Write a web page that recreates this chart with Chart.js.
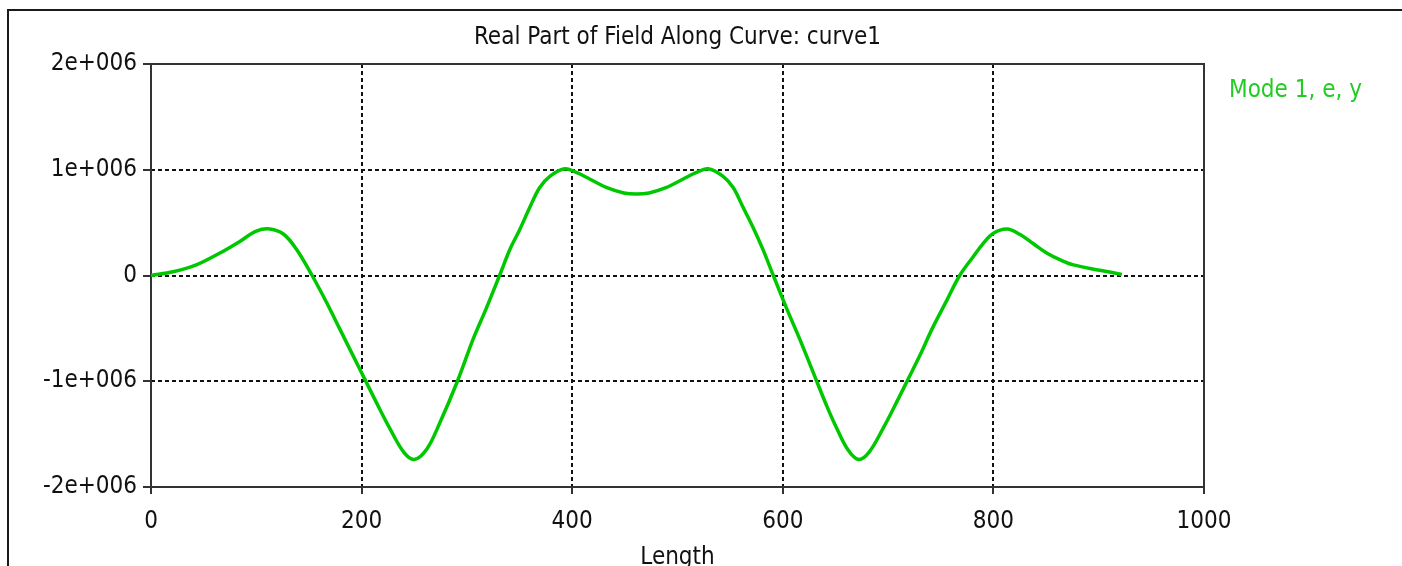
<!DOCTYPE html>
<html>
<head>
<meta charset="utf-8">
<title>Real Part of Field Along Curve: curve1</title>
<script src="https://cdn.jsdelivr.net/npm/chart.js@4.4.0/dist/chart.umd.min.js"></script>
<style>
  html, body { margin: 0; padding: 0; background: #fff; }
  #wrap { position: relative; width: 1402px; height: 566px; overflow: hidden; }
  #frame { position: absolute; left: 7px; top: 9px; right: -10px; bottom: -10px;
           border-top: 2px solid #1a1a1a; border-left: 2px solid #1a1a1a; }
  #plot { position: absolute; left: 0; top: 0; }
</style>
</head>
<body>
<div id="wrap">
  <div id="frame"></div>
  <canvas id="plot" width="1402" height="566"></canvas>
</div>
<script>
// distance along curve1
var lengths = [0, 21, 43, 65, 84, 100, 113, 126, 138, 153,
  167, 179, 192, 203, 214, 227, 240, 250, 262, 274,
  291, 306, 318, 331, 341, 350, 360, 369, 379, 393,
  405, 417, 433, 449, 461, 473, 489, 505, 517, 529,
  543, 553, 562, 572, 581, 591, 604, 616, 631, 642,
  651, 662, 672, 682, 695, 708, 719, 730, 742, 756,
  768, 781, 790, 800, 813, 825, 838, 851, 863, 876,
  901, 922];

// Re(Ey) for mode 1
var fieldRe = [0, 35e3, 1e5, 2.1e5, 3.2e5, 4.2e5, 4.4e5, 3.9e5, 2.5e5, 0,
  -2.6e5, -5e5, -7.6e5, -9.8e5, -1.2e6, -1.45e6, -1.67e6, -1.74e6, -1.64e6, -1.4e6,
  -1e6, -6e5, -3.2e5, 0, 2.5e5, 4.3e5, 6.5e5, 8.3e5, 9.4e5, 1.01e6,
  9.7e5, 9.1e5, 8.3e5, 7.8e5, 7.7e5, 7.8e5, 8.3e5, 9.1e5, 9.7e5, 1.01e6,
  9.4e5, 8.3e5, 6.5e5, 4.5e5, 2.5e5, 0, -3.2e5, -6e5, -9.7e5, -1.24e6,
  -1.44e6, -1.65e6, -1.74e6, -1.67e6, -1.45e6, -1.2e6, -9.8e5, -7.6e5, -5e5, -2.3e5,
  0, 1.8e5, 3e5, 4e5, 4.4e5, 3.9e5, 3e5, 2.1e5, 1.5e5, 1e5,
  5e4, 1e4];

var yTicks = [-2e6, -1e6, 0, 1e6, 2e6];
var yTickLabels = ['-2e+006', '-1e+006', '0', '1e+006', '2e+006'];
var xTicks = [0, 200, 400, 600, 800, 1000];
var xTickLabels = ['0', '200', '400', '600', '800', '1000'];

var seriesName = 'Mode 1, e, y';
var plotTitle = 'Real Part of Field Along Curve: curve1';

var fontFam = "'DejaVu Sans Condensed', 'Liberation Sans', sans-serif";
var fontSize = 24;
var axisCol = '#333';

var punkte = [];
for (var i = 0; i < lengths.length; i++) {
  punkte.push({ x: lengths[i], y: fieldRe[i] });
}

function tickLabel(werte, texte) {
  return function (v) {
    var k = werte.indexOf(v);
    return k >= 0 ? texte[k] : '';
  };
}

// box round the plot, title on top and series name at the right
var rahmen = {
  id: 'rahmen',
  beforeDatasetsDraw: function (chart) {
    var ctx = chart.ctx, a = chart.chartArea;
    ctx.save();
    ctx.strokeStyle = axisCol;
    ctx.lineWidth = 2;
    ctx.strokeRect(a.left, a.top, a.right - a.left, a.bottom - a.top);
    ctx.restore();
  },
  afterDraw: function (chart) {
    var ctx = chart.ctx, a = chart.chartArea;
    ctx.save();
    ctx.font = fontSize + 'px ' + fontFam;
    ctx.textBaseline = 'middle';
    ctx.fillStyle = '#111';
    ctx.textAlign = 'center';
    ctx.fillText(plotTitle, (a.left + a.right) / 2, 38);
    ctx.fillStyle = '#22cc22';
    ctx.textAlign = 'left';
    ctx.fillText(chart.data.datasets[0].label, 1229, 91);
    ctx.restore();
  }
};

var gitter = {
  color: '#111',
  lineWidth: 2,
  tickColor: axisCol,
  tickWidth: 2,
  tickBorderDash: []
};

var grafico = new Chart(document.getElementById('plot').getContext('2d'), {
  type: 'line',
  data: {
    datasets: [{
      label: seriesName,
      data: punkte,
      borderColor: '#00c800',
      borderWidth: 3.5,
      pointRadius: 0,
      fill: false,
      tension: 0.35
    }]
  },
  options: {
    responsive: false,
    animation: false,
    layout: { padding: { left: 0, right: 198, top: 64, bottom: 0 } },
    plugins: {
      legend: { display: false },
      title: { display: false },
      tooltip: { enabled: false }
    },
    scales: {
      x: {
        type: 'linear',
        min: 0,
        max: 1000,
        afterBuildTicks: function (s) { s.ticks = xTicks.map(function (v) { return { value: v }; }); },
        afterFit: function (s) { s.height = 79; },
        ticks: {
          color: '#111',
          font: { family: fontFam, size: fontSize },
          padding: 13,
          maxRotation: 0,
          callback: tickLabel(xTicks, xTickLabels)
        },
        grid: Object.assign({ tickLength: 7 }, gitter),
        border: { display: false, dash: [4, 3] },
        title: {
          display: true,
          text: 'Length',
          color: '#111',
          font: { family: fontFam, size: fontSize, lineHeight: 1 },
          padding: { top: 0, bottom: -4 }
        }
      },
      y: {
        type: 'linear',
        min: -2e6,
        max: 2e6,
        afterBuildTicks: function (s) { s.ticks = yTicks.map(function (v) { return { value: v }; }); },
        afterFit: function (s) { s.width = 151; },
        ticks: {
          color: '#111',
          font: { family: fontFam, size: fontSize },
          padding: 6,
          callback: tickLabel(yTicks, yTickLabels)
        },
        grid: Object.assign({ tickLength: 8 }, gitter),
        border: { display: false, dash: [4, 3] }
      }
    }
  },
  plugins: [rahmen]
});
</script>
</body>
</html>
